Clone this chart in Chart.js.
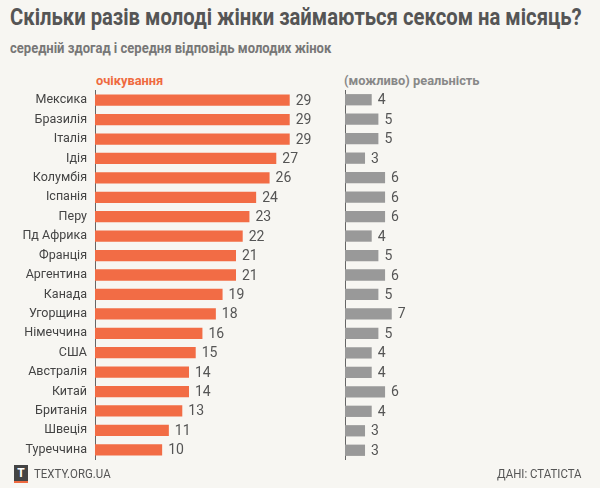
<!DOCTYPE html>
<html><head><meta charset="utf-8">
<script src="https://cdn.jsdelivr.net/npm/chart.js@4"></script>
<style>
body{margin:0;background:#f7f6f2;font-family:Roboto,sans-serif;color:#444;}
#wrap{position:relative;width:600px;height:488px;overflow:hidden;}
.t{position:absolute;white-space:nowrap;transform-origin:0 0;}
</style></head><body>
<div id="wrap">
<div class="t" style="left:10px;top:4px;font-size:23px;font-weight:bold;color:#555;transform:scaleX(0.88);">Скільки разів молоді жінки займаються сексом на місяць?</div>
<div class="t" style="left:10px;top:40px;font-size:14px;font-weight:bold;color:#777;transform:scaleX(0.93);">середній здогад і середня відповідь молодих жінок</div>
<div class="t" style="left:96px;top:72px;font-size:13.5px;font-weight:bold;color:#ef6a40;transform:scaleX(0.95);">очікування</div>
<div class="t" style="left:344px;top:72px;font-size:13.5px;font-weight:bold;color:#888;transform:scaleX(0.95);">(можливо) реальність</div>
<div style="position:absolute;left:0;top:79px;width:330px;height:392px;"><canvas id="c1"></canvas></div>
<div style="position:absolute;left:344px;top:90px;width:200px;height:370px;"><canvas id="c2"></canvas></div>
<div style="position:absolute;left:14px;top:465px;width:14px;height:16px;background:#444;color:#fff;font:bold 12px Roboto,sans-serif;text-align:center;line-height:16px;border-bottom:2px solid #ef6a40;">T</div>
<div class="t" style="left:34px;top:466px;font:13px Roboto,sans-serif;color:#555;transform:scaleX(0.88);">TEXTY.ORG.UA</div>
<div class="t" style="left:497px;top:466px;font:13px Roboto,sans-serif;color:#555;transform:scaleX(0.88);">ДАНІ: СТАТІСТА</div>
</div>
<script>
// дані
const countries = ['Мексика','Бразилія','Італія','Ідія','Колумбія','Іспанія','Перу','Пд Африка','Франція','Аргентина','Канада','Угорщина','Німеччина','США','Австралія','Китай','Британія','Швеція','Туреччина'];
const expected = [29,29,29,27,26,24,23,22,21,21,19,18,16,15,14,14,13,11,10];
const reality = [4,5,5,3,6,6,6,4,5,6,5,7,5,4,4,6,4,3,3];

const font = 'Roboto, sans-serif';

// підписи значень біля смуг
const valueLabels = {
  id: 'valueLabels',
  afterDatasetsDraw(chart) {
    const ctx = chart.ctx;
    const meta = chart.getDatasetMeta(0);
    ctx.save();
    ctx.font = '14px ' + font;
    ctx.fillStyle = '#555';
    ctx.textBaseline = 'middle';
    meta.data.forEach((bar, i) => {
      ctx.fillText(chart.data.datasets[0].data[i], bar.x + 6, bar.y + 1);
    });
    ctx.restore();
  }
};

function makeChart(id, data, color, max, showLabels) {
  return new Chart(document.getElementById(id), {
    type: 'bar',
    data: {
      labels: countries,
      datasets: [{
        data: data,
        backgroundColor: color,
        barPercentage: 0.58,
        categoryPercentage: 1
      }]
    },
    options: {
      indexAxis: 'y',
      responsive: true,
      maintainAspectRatio: false,
      animation: false,
      layout: { padding: 0 },
      plugins: { legend: { display: false }, tooltip: { enabled: false } },
      scales: {
        x: { display: false, min: 0, max: max },
        y: {
          afterFit: s => { s.width = showLabels ? 95 : 1; },
          grid: { display: false, drawTicks: showLabels, tickLength: 4, color: '#bbb' },
          border: { display: true, color: '#666', width: 1 },
          ticks: {
            display: showLabels,
            autoSkip: false,
            color: '#444',
            padding: 4,
            font: { family: font, size: 12.5 }
          }
        }
      }
    },
    plugins: [valueLabels]
  });
}

makeChart('c1', expected, '#f26c45', 35, true);
makeChart('c2', reality, '#999999', 29.8, false);
</script>
</body></html>
